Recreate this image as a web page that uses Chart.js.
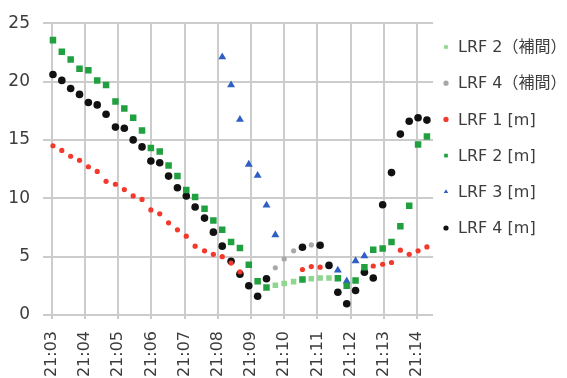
<!DOCTYPE html>
<html>
<head>
<meta charset="utf-8">
<script src="https://cdn.jsdelivr.net/npm/chart.js@4"></script>
<style>
  html, body { margin: 0; padding: 0; background: #fff; }
  #wrap { width: 567px; height: 378px; }
</style>
</head>
<body>
<div id="wrap"><canvas id="chart" width="567" height="378"></canvas></div>
<script>
// ---------------- DATA ----------------
// sample times, seconds after 21:03:00
const times = [2, 18, 34, 50, 66, 82, 98, 115, 131, 147, 163, 179, 195, 211, 227, 243, 259, 276, 292, 308,
  324, 340, 356, 372, 388, 404, 420, 437, 453, 469, 485, 501, 517, 533, 549, 565, 581, 598, 614, 630,
  646, 662, 678];

const lrf1 = [14.5, 14.1, 13.6, 13.25, 12.7, 12.3, 11.45, 11.2, 10.75, 10.2, 9.9, 9.0, 8.67, 7.9, 7.3, 6.75,
  5.9, 5.5, 5.2, 5.0, 4.45, 3.7, null, null, null, null, null, null, 3.9, 4.15, 4.1, null, null, null, null,
  null, 4.2, 4.35, 4.5, 5.55, 5.2, 5.5, 5.83];

const lrf2 = [23.55, 22.55, 21.9, 21.1, 20.97, 20.1, 19.7, 18.3, 17.7, 16.9, 15.8, 14.3, 14.0, 12.8, 11.9, 10.7,
  10.1, 9.1, 8.1, 7.3, 6.25, 5.75, 4.3, 2.9, 2.36, null, null, null, 3.05, null, null, null, 3.14, 2.5, 2.95,
  4.1, 5.6, 5.7, 6.25, 7.6, 9.35, 14.6, 15.3];

const lrf3 = [null, null, null, null, null, null, null, null, null, null, null, null, null, null, null, null,
  null, null, null, 22.1, 19.7, 16.75, 12.9, 11.95, 9.4, 6.86, null, null, null, null, null, null, 3.83, 2.9,
  4.64, 5.05, null, null, null, null, null, null, null];

const lrf4 = [20.6, 20.1, 19.4, 18.9, 18.2, 18.0, 17.2, 16.1, 16.0, 15.0, 14.4, 13.2, 13.05, 11.9, 10.9, 10.2,
  9.25, 8.3, 7.1, 5.9, 4.6, 3.5, 2.5, 1.6, 3.1, null, null, null, 5.8, null, 5.97, 4.25, 1.95, 0.97, 2.1,
  3.67, 3.17, 9.45, 12.2, 15.5, 16.6, 16.9, 16.7];

// interpolated values (補間)
const lrf2Interp = [null, null, null, null, null, null, null, null, null, null, null, null, null, null, null, null,
  null, null, null, null, null, null, null, null, null, 2.55, 2.7, 2.86, null, 3.1, 3.17, 3.17, null, null, null,
  null, null, null, null, null, null, null, null];

const lrf4Interp = [null, null, null, null, null, null, null, null, null, null, null, null, null, null, null, null,
  null, null, null, null, null, null, null, null, null, 4.05, 4.8, 5.5, null, 6.0, null, null, null, null, null,
  null, null, null, null, null, null, null, null];

const xTicks = [0, 60, 120, 180, 240, 300, 360, 420, 480, 540, 600, 660];
const xLabels = ["21:03", "21:04", "21:05", "21:06", "21:07", "21:08", "21:09", "21:10", "21:11", "21:12", "21:13", "21:14"];
const yTicks = [0, 5, 10, 15, 20, 25];

// ---------------- HELPERS ----------------
function points(values) {
  const out = [];
  values.forEach((v, i) => { if (v !== null) out.push({ x: times[i], y: v }); });
  return out;
}

function series(label, values, color, style, radius) {
  return {
    label: label,
    data: points(values),
    backgroundColor: color,
    borderColor: color,
    pointStyle: style,
    pointRadius: radius,
    pointHoverRadius: radius,
    pointBorderWidth: 0,
    showLine: false
  };
}

const FONT = "'DejaVu Sans', 'Noto Sans CJK JP', sans-serif";
const TEXT = "#3c3c3c";
const GRID = "#cccccc";

// legend drawn on the right, same order as the datasets
const sideLegend = {
  id: "sideLegend",
  afterDraw(chart) {
    const ctx = chart.ctx;
    ctx.save();
    ctx.font = "16px " + FONT;
    ctx.textBaseline = "middle";
    chart.data.datasets.forEach((ds, i) => {
      const y = 47 + i * 36.2;
      ctx.fillStyle = ds.backgroundColor;
      Chart.helpers.drawPoint(ctx, { pointStyle: ds.pointStyle, radius: 2.6, rotation: 0, borderWidth: 0 }, 446, y);
      ctx.fillStyle = TEXT;
      ctx.fillText(ds.label, 458, y + 1);
    });
    ctx.restore();
  }
};

// ---------------- CHART ----------------
new Chart(document.getElementById("chart").getContext("2d"), {
  type: "scatter",
  data: {
    datasets: [
      series("LRF 2（補間）", lrf2Interp, "#8fd68f", "rect", 3.9),
      series("LRF 4（補間）", lrf4Interp, "#a8a8a8", "circle", 2.6),
      series("LRF 1 [m]", lrf1, "#f3382c", "circle", 2.6),
      series("LRF 2 [m]", lrf2, "#21a040", "rect", 4.6),
      series("LRF 3 [m]", lrf3, "#2f5fc4", "triangle", 4.6),
      series("LRF 4 [m]", lrf4, "#111111", "circle", 3.8)
    ]
  },
  options: {
    responsive: false,
    animation: false,
    devicePixelRatio: 1,
    layout: { padding: { top: 15, right: 134, left: 0, bottom: 0 } },
    plugins: { legend: { display: false }, tooltip: { enabled: false } },
    scales: {
      x: {
        type: "linear",
        min: -16,
        max: 689,
        afterBuildTicks: (scale) => { scale.ticks = xTicks.map(v => ({ value: v })); },
        afterFit: (scale) => { scale.height = 63; },
        border: { display: false },
        grid: { color: GRID, lineWidth: 2, drawTicks: true, tickLength: 4 },
        ticks: {
          minRotation: 90,
          maxRotation: 90,
          padding: 12,
          color: TEXT,
          font: { family: FONT, size: 16 },
          callback: (value, index) => xLabels[index]
        }
      },
      y: {
        min: 0,
        max: 25,
        afterBuildTicks: (scale) => { scale.ticks = yTicks.map(v => ({ value: v })); },
        afterFit: (scale) => { scale.width = 43; },
        border: { display: false },
        grid: { color: GRID, lineWidth: 2, drawTicks: false },
        ticks: {
          padding: 13,
          color: TEXT,
          font: { family: FONT, size: 17 }
        }
      }
    }
  },
  plugins: [sideLegend]
});
</script>
</body>
</html>
